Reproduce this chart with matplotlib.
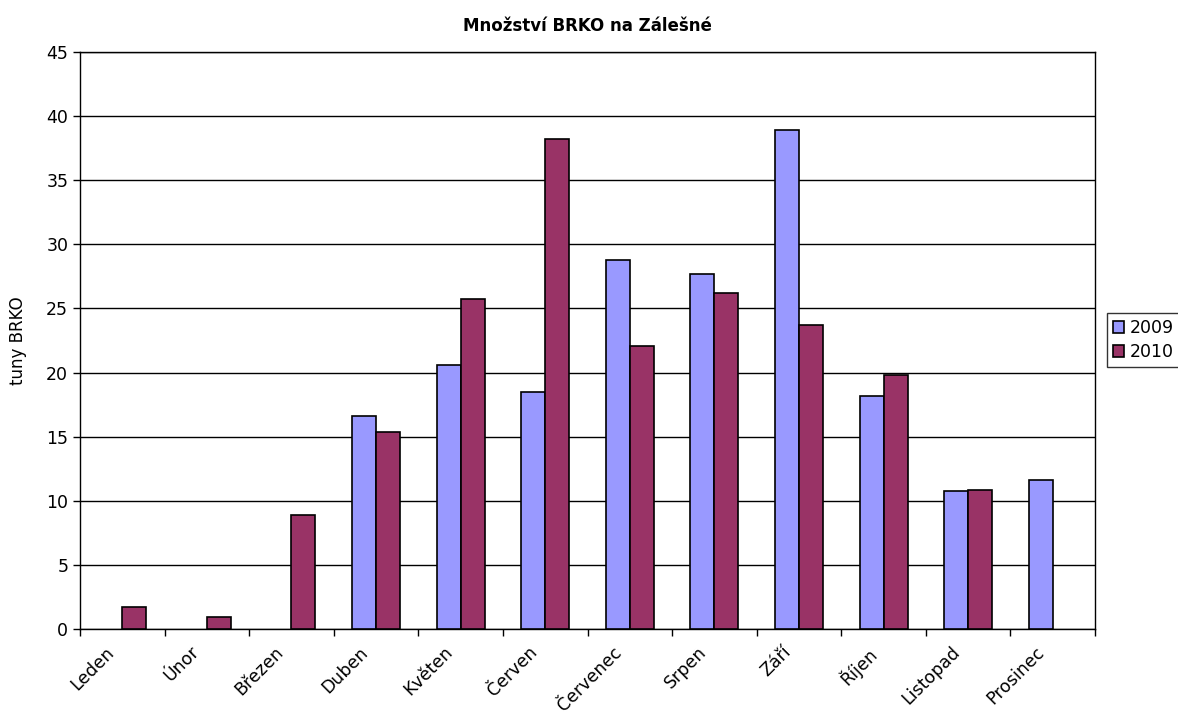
import numpy as np
import matplotlib
matplotlib.use("Agg")
import matplotlib.pyplot as plt
from matplotlib.transforms import ScaledTranslation

plt.rcParams['font.family'] = ['DejaVu Sans']

# data (tuny BRKO), NaN = no value
mesice = ['Leden', 'Únor', 'Březen', 'Duben', 'Květen', 'Červen',
          'Červenec', 'Srpen', 'Září', 'Říjen', 'Listopad', 'Prosinec']
rok2009 = [np.nan, np.nan, np.nan, 16.6, 20.6, 18.5, 28.8, 27.7, 38.9, 18.2, 10.8, 11.6]
rok2010 = [1.7, 0.95, 8.9, 15.4, 25.7, 38.2, 22.1, 26.2, 23.7, 19.8, 10.85, np.nan]
roky = ['2009', '2010']

c2009 = '#9999FF'
c2010 = '#993366'

fig = plt.figure(figsize=(11.78, 7.13), dpi=100)
ax = fig.add_axes([80/1178, 84/713, 1015/1178, 577/713])

x = np.arange(len(mesice))
w = 0.284
ax.bar(x - w/2, rok2009, w, color=c2009, edgecolor='black', linewidth=1.2,
       label=roky[0], zorder=3)
ax.bar(x + w/2, rok2010, w, color=c2010, edgecolor='black', linewidth=1.2,
       label=roky[1], zorder=3)

ax.set_xlim(-0.5, len(mesice) - 0.5)
ax.set_ylim(0, 45)
ax.set_yticks(np.arange(0, 46, 5))
ax.yaxis.grid(True, color='black', linewidth=1)
ax.set_axisbelow(True)

# ticks between months, labels at month centers
ax.set_xticks(np.arange(-0.5, len(mesice), 1))
ax.set_xticklabels([])
ax.set_xticks(x, minor=True)
ax.set_xticklabels(mesice, minor=True, rotation=45, ha='right',
                   rotation_mode='anchor', fontsize=12.5)
ax.tick_params(axis='x', which='minor', length=0, pad=8)
ax.tick_params(axis='x', which='major', length=5, direction='out', width=1)
ax.tick_params(axis='y', length=5, direction='out', labelsize=12.5, width=1)
off = ScaledTranslation(-0.17, -0.03, fig.dpi_scale_trans)
for lbl in ax.get_xticklabels(minor=True):
    lbl.set_transform(lbl.get_transform() + off)

for s in ax.spines.values():
    s.set_color('black')
    s.set_linewidth(1)

ax.set_ylabel('tuny BRKO', fontsize=12, labelpad=14)
ax.set_title('Množství BRKO na Zálešné', fontsize=12, fontweight='bold', pad=15)

leg = fig.legend(loc='center left', bbox_to_anchor=(1107/1178, 1 - 340/713),
                 fontsize=12.5, frameon=True, fancybox=False, edgecolor='black',
                 handlelength=0.65, handleheight=0.65, handletextpad=0.3,
                 borderpad=0.35, labelspacing=0.35, borderaxespad=0)
leg.get_frame().set_linewidth(1)

fig.savefig('out.png', dpi=100)
